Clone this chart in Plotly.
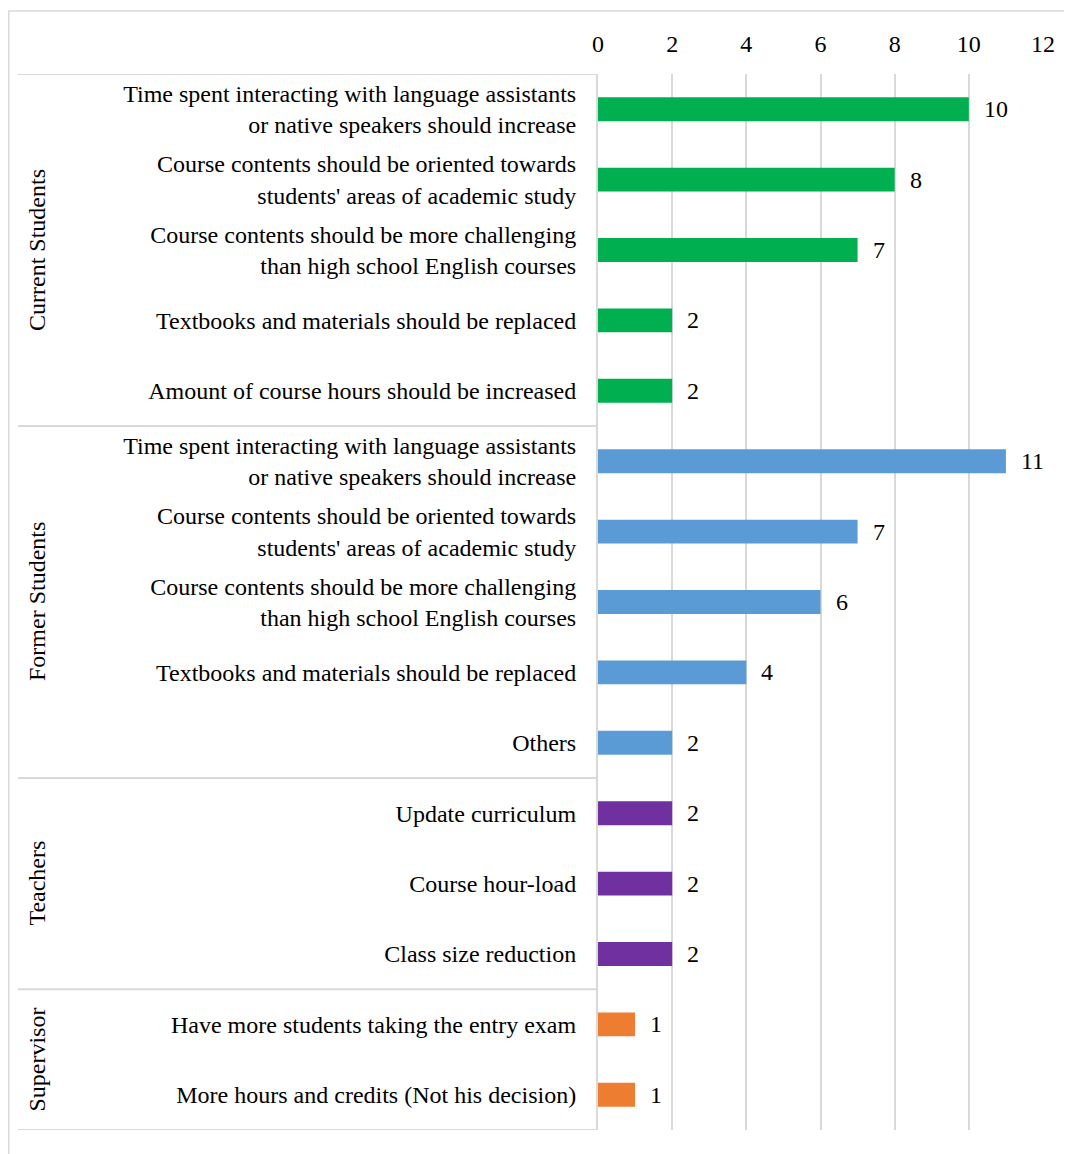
import plotly.graph_objects as go

categories = [
    "Time spent interacting with language assistants<br>or native speakers should increase",
    "Course contents should be oriented towards<br>students' areas of academic study",
    "Course contents should be more challenging<br>than high school English courses",
    "Textbooks and materials should be replaced",
    "Amount of course hours should be increased",
    "Time spent interacting with language assistants<br>or native speakers should increase",
    "Course contents should be oriented towards<br>students' areas of academic study",
    "Course contents should be more challenging<br>than high school English courses",
    "Textbooks and materials should be replaced",
    "Others",
    "Update curriculum",
    "Course hour-load",
    "Class size reduction",
    "Have more students taking the entry exam",
    "More hours and credits (Not his decision)",
]
values = [10, 8, 7, 2, 2, 11, 7, 6, 4, 2, 2, 2, 2, 1, 1]
groups = ["Current Students"] * 5 + ["Former Students"] * 5 + ["Teachers"] * 3 + ["Supervisor"] * 2
group_names = ["Current Students", "Former Students", "Teachers", "Supervisor"]
group_colors = {"Current Students": "#00b050", "Former Students": "#5b9bd5",
                "Teachers": "#7030a0", "Supervisor": "#ed7d31"}
x_ticks = [0, 2, 4, 6, 8, 10, 12]

FONT = "Liberation Serif"
FS = 24
GRID = "#d9d9d9"

W, H = 1064, 1146
ML, MR, MT, MB = 590, 29, 66, 24
PW = W - ML - MR
PH = H - MT - MB

def px_x(px):
    return (px - ML) / PW

def px_y(py):
    return 1 - (py - MT) / PH

pos = list(range(len(categories)))
fig = go.Figure()
fig.add_trace(go.Bar(
    x=values, y=pos, orientation="h",
    marker=dict(color=[group_colors[g] for g in groups], line=dict(width=0)),
    width=0.34, showlegend=False, hoverinfo="x+y",
))

for p, v in zip(pos, values):
    fig.add_annotation(x=v, y=p, xref="x", yref="y", text=str(v), showarrow=False,
                       xanchor="left", xshift=13, font=dict(family=FONT, size=FS, color="#000"))

shapes = []
start = 0
for g in group_names:
    n = groups.count(g)
    end = start + n
    center = (start + end - 1) / 2
    fig.add_annotation(x=px_x(29), y=center, xref="paper", yref="y", text=g, textangle=-90,
                       xanchor="center", yanchor="middle",
                       showarrow=False, font=dict(family=FONT, size=FS, color="#000"))
    shapes.append(dict(type="line", xref="paper", yref="y", x0=px_x(10), x1=0,
                       y0=start - 0.5, y1=start - 0.5, line=dict(color=GRID, width=2)))
    start = end
shapes.append(dict(type="line", xref="paper", yref="y", x0=px_x(10), x1=0,
                   y0=start - 0.5, y1=start - 0.5, line=dict(color=GRID, width=2)))
# outer chart frame (right and bottom edges fall outside the picture)
shapes.append(dict(type="rect", xref="paper", yref="paper", x0=px_x(0.8), x1=px_x(1090),
                   y0=px_y(1170), y1=px_y(3), line=dict(color=GRID, width=1.5)))
fig.update_layout(shapes=shapes)

fig.update_xaxes(range=[0, 12], tickvals=x_ticks, side="top", showgrid=True, gridcolor=GRID,
                 gridwidth=2, zeroline=False, showline=False,
                 tickfont=dict(family=FONT, size=FS, color="#000"), ticklabelstandoff=16)
fig.update_yaxes(range=[len(categories) - 0.5, -0.5], tickvals=pos, ticktext=categories,
                 showgrid=False, zeroline=False, showline=True, linecolor=GRID, linewidth=2,
                 tickfont=dict(family=FONT, size=FS, color="#000"), ticklabelstandoff=15)
fig.update_layout(
    width=W, height=H,
    margin=dict(l=ML, r=MR, t=MT, b=MB),
    paper_bgcolor="white", plot_bgcolor="white",
    font=dict(family=FONT, size=FS, color="#000"),
)
fig.write_html("out.html")
